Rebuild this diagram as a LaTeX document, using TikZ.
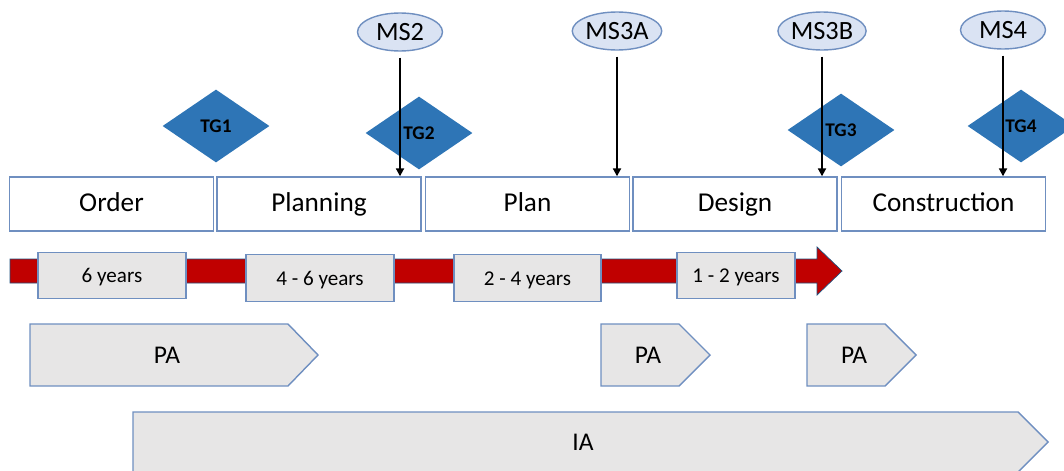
\documentclass[tikz,border=0pt]{standalone}
\usepackage{fontspec}
\setmainfont{Carlito}
\usepackage{tikz}
\usetikzlibrary{shapes.geometric, arrows.meta}

\definecolor{edgeblue}{HTML}{6F8FC0}
\definecolor{tgblue}{HTML}{2E75B6}
\definecolor{msfill}{HTML}{DAE3F3}
\definecolor{lightgray}{HTML}{E7E6E6}
\definecolor{arrowred}{HTML}{C00000}

\tikzset{
    phase/.style={draw=edgeblue, line width=0.8pt, fill=white, minimum width=4.08cm, minimum height=1.08cm, inner sep=0pt, text height=2.5ex, text depth=0.6ex, font=\fontsize{15.5}{18}\selectfont},
    milestone/.style={ellipse, draw=edgeblue, line width=0.8pt, fill=msfill, minimum width=1.7cm, minimum height=0.76cm, inner sep=0pt, font=\fontsize{15}{18}\selectfont},
    gate/.style={diamond, fill=tgblue, minimum width=2.14cm, minimum height=1.46cm, inner sep=0pt, font=\fontsize{11}{13}\selectfont\bfseries},
    duration/.style={draw=edgeblue, line width=0.8pt, fill=lightgray, minimum height=0.93cm, inner sep=0pt, text height=2.3ex, text depth=0.6ex, font=\fontsize{12}{14}\selectfont},
    pashape/.style={draw=edgeblue, line width=0.8pt, fill=lightgray},
    palabel/.style={font=\fontsize{14.5}{17}\selectfont},
    msarrow/.style={-{Triangle[length=4.5pt, width=4.5pt]}, line width=1.1pt}
}

\begin{document}
\begin{tikzpicture}[x=0.02cm, y=-0.02cm]
        \useasboundingbox (0, 0) rectangle (1064, 470);

        % phases
        \node[phase] (order) at (111.5, 204) {Order};
        \node[phase] (planning) at (319, 204) {Planning};
        \node[phase] (plan) at (527.5, 204) {Plan};
        \node[phase] (design) at (735, 204) {Design};
        \node[phase] (construction) at (943.5, 204) {Construction};

        % toll gates
        \node[gate] (tg1) at (216, 126) {TG1};
        \node[gate] (tg2) at (419, 133) {TG2};
        \node[gate] (tg3) at (841, 130) {TG3};
        \node[gate] (tg4) at (1021, 126) {TG4};

        % milestones
        \node[milestone] (ms2) at (400, 32) {MS2};
        \node[milestone] (ms3a) at (617, 31) {MS3A};
        \node[milestone] (ms3b) at (822, 31) {MS3B};
        \node[milestone] (ms4) at (1003, 30) {MS4};

        \draw[msarrow] ([yshift=-0.12cm]ms2.south) -- (ms2.south |- planning.north);
        \draw[msarrow] ([yshift=-0.12cm]ms3a.south) -- (ms3a.south |- plan.north);
        \draw[msarrow] ([yshift=-0.12cm]ms3b.south) -- (ms3b.south |- design.north);
        \draw[msarrow] ([yshift=-0.12cm]ms4.south) -- (ms4.south |- construction.north);

        % time line
        \draw[fill=arrowred, draw=tgblue!70!black, line width=0.4pt] (10, 259) -- (817, 259) -- (817, 247) -- (842, 271) -- (817, 295) -- (817, 283) -- (10, 283) -- cycle;

        \node[duration, minimum width=2.96cm] (y6) at (112, 275.5) {6 years};
        \node[duration, minimum width=2.96cm] (y46) at (320, 278) {4 - 6 years};
        \node[duration, minimum width=2.94cm] (y24) at (527.5, 278) {2 - 4 years};
        \node[duration, minimum width=2.36cm] (y12) at (736, 275.5) {1 - 2 years};

        % PA / IA
        \draw[pashape] (30, 324) -- (288, 324) -- (318, 355) -- (288, 386) -- (30, 386) -- cycle;
        \node[palabel] (pa1) at (167, 355) {PA};
        \draw[pashape] (601, 324) -- (679, 324) -- (710, 355) -- (679, 386) -- (601, 386) -- cycle;
        \node[palabel] (pa2) at (648, 355) {PA};
        \draw[pashape] (807, 324) -- (885, 324) -- (916, 355) -- (885, 386) -- (807, 386) -- cycle;
        \node[palabel] (pa3) at (854, 355) {PA};
        \draw[pashape] (133, 412) -- (1018, 412) -- (1048, 442) -- (1018, 472) -- (133, 472) -- cycle;
        \node[palabel] (ia) at (583, 442) {IA};
    \end{tikzpicture}
\end{document}
